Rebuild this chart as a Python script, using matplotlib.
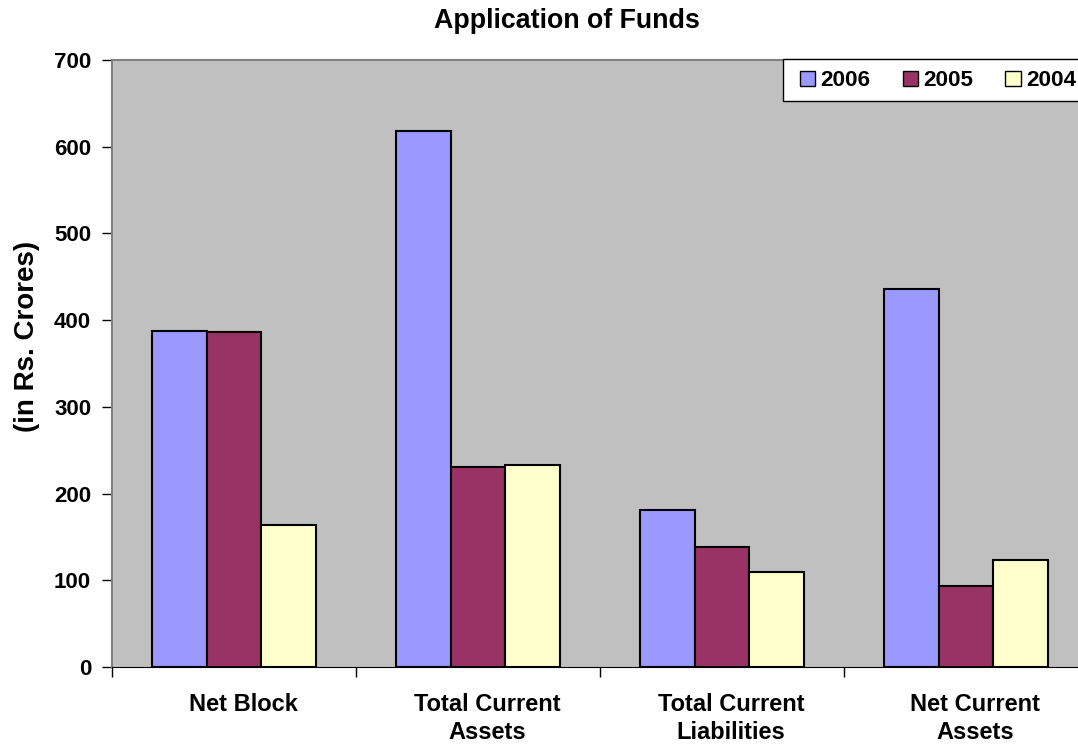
import matplotlib
matplotlib.use("Agg")
import matplotlib.pyplot as plt
from matplotlib.patches import Rectangle
import numpy as np

categories = ["Net Block", "Total Current\nAssets", "Total Current\nLiabilities", "Net Current\nAssets"]
years = ["2006", "2005", "2004"]
values_2006 = [388, 618, 181, 436]
values_2005 = [386, 231, 138, 93]
values_2004 = [164, 233, 110, 123]
colors = ["#9999FF", "#993366", "#FFFFCC"]
yticks = [0, 100, 200, 300, 400, 500, 600, 700]

plt.rcParams['font.family'] = ['Liberation Sans', 'DejaVu Sans']
plt.rcParams['font.weight'] = 'bold'

fig = plt.figure(figsize=(10.78, 7.48), dpi=100)
W, H = 1078, 748
left, right, top, bottom = 112, 1088, 60, 667
ax = fig.add_axes([left / W, 1 - bottom / H, (right - left) / W, (bottom - top) / H])
ax.set_facecolor("#C0C0C0")

x = np.arange(len(categories))
bw = 0.223
series = [values_2006, values_2005, values_2004]
for i, (vals, c, lab) in enumerate(zip(series, colors, years)):
    ax.bar(x + (i - 1) * bw, vals, width=bw, color=c, edgecolor="black",
           linewidth=1.5, label=lab, zorder=3)

ax.set_xlim(-0.5, len(categories) - 0.5)
ax.set_ylim(0, 700)
ax.set_yticks(yticks)
ax.set_yticklabels([str(t) for t in yticks], fontsize=16, fontweight='bold')
ax.set_xticks(np.arange(len(categories) + 1) - 0.5)
ax.set_xticklabels([])
ax.tick_params(axis='x', length=7, width=1, color='black', direction='out')
ax.tick_params(axis='y', length=7, width=1, color='black', direction='out', pad=8)
for xi, cat in zip(x, categories):
    ax.text(xi + 0.037, -30, cat, ha='center', va='top', fontsize=17, fontweight='bold',
            linespacing=1.28)

for s in ["left", "top"]:
    ax.spines[s].set_color("#808080")
    ax.spines[s].set_linewidth(1.5)
ax.spines["bottom"].set_color("black")
ax.spines["right"].set_visible(False)

fig.text(567 / W, 1 - 21 / H, "Application of Funds", ha='center', va='center',
         fontsize=19.3, fontweight='bold')
fig.text(27 / W, 1 - 336 / H, "(in Rs. Crores)", ha='center', va='center',
         rotation=90, fontsize=20, fontweight='bold')

# legend box running off the right edge of the figure
fig.patches.append(Rectangle((783 / W, 1 - 101 / H), 310 / W, 42 / H,
                             transform=fig.transFigure, facecolor="white",
                             edgecolor="black", linewidth=1.0, zorder=5))
leg = fig.legend(*ax.get_legend_handles_labels(), loc='center left',
                 bbox_to_anchor=(800 / W, 1 - 81 / H), ncol=3, frameon=False,
                 prop={'weight': 'bold', 'size': 16.2},
                 handlelength=0.67, handleheight=0.6, handletextpad=0.25,
                 columnspacing=1.42, borderpad=0.0, borderaxespad=0.0)
leg.set_zorder(6)
for h in leg.legend_handles:
    h.set_linewidth(1.0)

fig.savefig("out.png", dpi=100)
